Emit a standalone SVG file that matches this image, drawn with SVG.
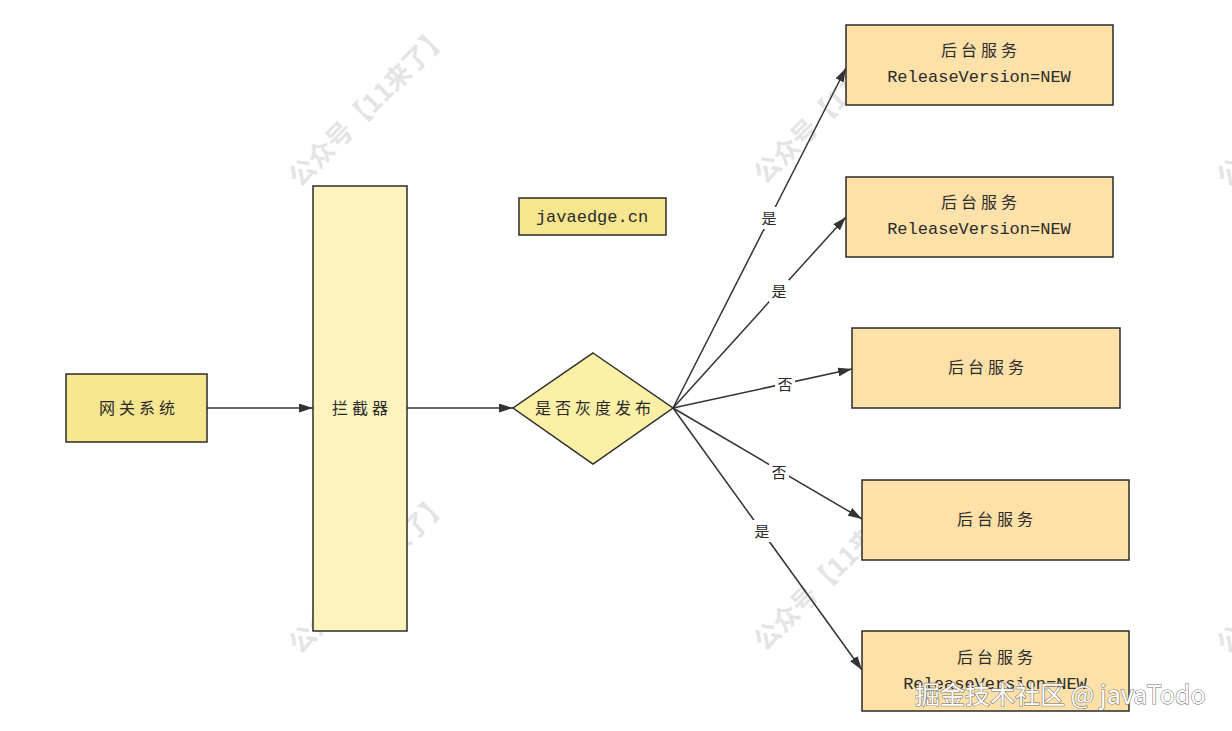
<svg xmlns="http://www.w3.org/2000/svg" width="1232" height="731" viewBox="0 0 1232 731">
<defs>
<style>
.box{stroke:#2b2b2b;stroke-width:1.5}
.cn{font-family:"Noto Sans CJK SC","Noto Sans",sans-serif;font-size:16px;fill:#2a2a2a;text-anchor:middle;letter-spacing:4px}
.mono{font-family:"Liberation Mono","DejaVu Sans Mono",monospace;font-size:17px;fill:#2a2a2a;text-anchor:middle}
.edge{stroke:#333;stroke-width:1.5;fill:none}
.lbl{font-family:"Noto Sans CJK SC",sans-serif;font-size:15px;fill:#2a2a2a;text-anchor:middle}
.wm{font-family:"Noto Sans CJK SC",sans-serif;font-size:26px;fill:#e4e4e4;font-weight:bold}
.jj{font-family:"Noto Sans CJK SC","Liberation Sans",sans-serif;font-size:25px;fill:#ffffff;stroke:#6e6e6e;stroke-width:1.1;paint-order:stroke}
</style>
<marker id="arr" viewBox="0 0 14 9" refX="14" refY="4.5" markerWidth="14" markerHeight="9" markerUnits="userSpaceOnUse" orient="auto">
<path d="M0,0 L14,4.5 L0,9 Z" fill="#333"/>
</marker>
</defs>
<rect width="1232" height="731" fill="#ffffff"/>
<g id="watermarks">
<text class="wm" transform="translate(300,188) rotate(-45)">公众号【11来了】</text>
<text class="wm" transform="translate(300,655) rotate(-45)">公众号【11来了】</text>
<text class="wm" transform="translate(765,185) rotate(-45)">公众号【11来了】</text>
<text class="wm" transform="translate(765,652) rotate(-45)">公众号【11来了】</text>
<text class="wm" transform="translate(1228,188) rotate(-45)">公众号【11来了】</text>
<text class="wm" transform="translate(1228,655) rotate(-45)">公众号【11来了】</text>
</g>
<g id="connectors">
<line class="edge" x1="207" y1="408" x2="313" y2="408" marker-end="url(#arr)"/>
<line class="edge" x1="407" y1="408" x2="513" y2="408" marker-end="url(#arr)"/>
<line class="edge" x1="673" y1="408" x2="846" y2="68" marker-end="url(#arr)"/>
<line class="edge" x1="673" y1="408" x2="846" y2="217" marker-end="url(#arr)"/>
<line class="edge" x1="673" y1="408" x2="852" y2="369" marker-end="url(#arr)"/>
<line class="edge" x1="673" y1="408" x2="862" y2="519" marker-end="url(#arr)"/>
<line class="edge" x1="673" y1="408" x2="862" y2="670" marker-end="url(#arr)"/>
<rect x="759" y="207" width="20" height="22" fill="#fff"/>
<text class="lbl" x="769" y="224">是</text>
<rect x="769" y="280" width="20" height="22" fill="#fff"/>
<text class="lbl" x="779" y="297">是</text>
<rect x="775" y="373" width="20" height="22" fill="#fff"/>
<text class="lbl" x="785" y="390">否</text>
<rect x="769" y="461" width="20" height="22" fill="#fff"/>
<text class="lbl" x="779" y="478">否</text>
<rect x="752" y="520" width="20" height="22" fill="#fff"/>
<text class="lbl" x="762" y="537">是</text>
</g>
<g id="gateway">
<rect class="box" x="66" y="374" width="141" height="68" fill="#f7e690"/>
<text class="cn" x="139" y="414">网关系统</text>
</g>
<g id="interceptor">
<rect class="box" x="313" y="186" width="94" height="445" fill="#fdf3bd"/>
<text class="cn" x="362" y="414">拦截器</text>
</g>
<g id="javaedge">
<rect class="box" x="519" y="198" width="147" height="37" fill="#f7e690"/>
<text class="mono" x="592" y="222">javaedge.cn</text>
</g>
<g id="decision">
<polygon class="box" points="593,353 673,408 593,464 513,408" fill="#fbf0a5"/>
<text class="cn" x="595" y="414">是否灰度发布</text>
</g>
<g id="svc1">
<rect class="box" x="846" y="25" width="267" height="80" fill="#fee1a8"/>
<text class="cn" x="981" y="56">后台服务</text>
<text class="mono" x="979" y="82">ReleaseVersion=NEW</text>
</g>
<g id="svc2">
<rect class="box" x="846" y="177" width="267" height="80" fill="#fee1a8"/>
<text class="cn" x="981" y="208">后台服务</text>
<text class="mono" x="979" y="234">ReleaseVersion=NEW</text>
</g>
<g id="svc3">
<rect class="box" x="852" y="328" width="268" height="80" fill="#fee1a8"/>
<text class="cn" x="988" y="373">后台服务</text>
</g>
<g id="svc4">
<rect class="box" x="862" y="480" width="267" height="80" fill="#fee1a8"/>
<text class="cn" x="997" y="525">后台服务</text>
</g>
<g id="svc5">
<rect class="box" x="862" y="631" width="267" height="80" fill="#fee1a8"/>
<text class="cn" x="997" y="663">后台服务</text>
<text class="mono" x="995" y="689">ReleaseVersion=NEW</text>
</g>
<text class="jj" x="915" y="704">掘金技术社区 @ javaTodo</text>
</svg>
